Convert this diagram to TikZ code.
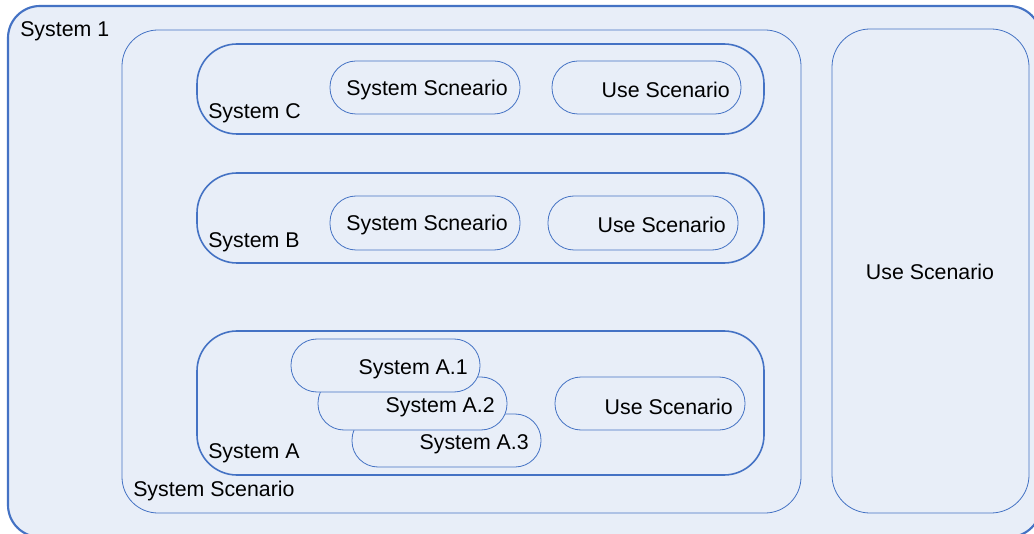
\documentclass[tikz,border=0pt]{standalone}
\usepackage{fontspec}
\setmainfont{Liberation Sans}
\definecolor{sysline}{RGB}{68, 114, 196}
\definecolor{sysfill}{RGB}{232, 238, 248}
\usetikzlibrary{positioning}

\begin{document}
\begin{tikzpicture}[x=0.75pt, y=-0.75pt, every node/.style={font=\fontsize{16}{19}\selectfont, inner sep=0pt}]
        \clip (0,0) rectangle (1034,534);
        \fill[white] (0,0) rectangle (1034,534);
        % outer system and its two scenarios
        \draw[line width=1.6pt, color=sysline, fill=sysfill, rounded corners=24pt] (8,6) rectangle (1041,537); \node[anchor=west] (sysone) at (20,31) {System 1};
        \draw[line width=0.6pt, color=sysline, fill=sysfill, rounded corners=27pt] (122,30) rectangle (801,513); \node[anchor=west] (sysscen) at (133,491) {System Scenario};
        \draw[line width=0.6pt, color=sysline, fill=sysfill, rounded corners=28.5pt] (832,29) rectangle (1029,513); \node (usescen) at (930,272) {Use Scenario};
        % subsystems C and B
        \foreach \name/\top in {C/44, B/173} {
          \draw[line width=1.2pt, color=sysline, fill=sysfill, rounded corners=30pt] (197,\top) rectangle (764,\top+90);
          \node[anchor=west] (sys\name) at (208,\top+69) {System \name};
        }
        \draw[line width=0.6pt, color=sysline, fill=sysfill, rounded corners=19.5pt] (330,61) rectangle (520,114); \node[anchor=east] (scenC) at (508,90) {System Scneario};
        \draw[line width=0.6pt, color=sysline, fill=sysfill, rounded corners=19.5pt] (552,61) rectangle (741,114); \node[anchor=east] (useC) at (730,90) {Use Scenario};
        \draw[line width=0.6pt, color=sysline, fill=sysfill, rounded corners=19.5pt] (330,196) rectangle (520,250); \node[anchor=east] (scenB) at (508,225) {System Scneario};
        \draw[line width=0.6pt, color=sysline, fill=sysfill, rounded corners=19.5pt] (548,196) rectangle (738,250); \node[anchor=east] (useB) at (726,225) {Use Scenario};
        % subsystem A with stacked parts
        \draw[line width=1.2pt, color=sysline, fill=sysfill, rounded corners=30pt] (197,331) rectangle (764,475); \node[anchor=west] (sysA) at (208,453) {System A};
        \draw[line width=0.6pt, color=sysline, fill=sysfill, rounded corners=19.5pt] (555,377) rectangle (745,430); \node[anchor=east] (useA) at (733,407) {Use Scenario};
        \foreach \part/\left/\top in {3/352/414, 2/318/377, 1/291/339} {
          \draw[line width=0.6pt, color=sysline, fill=sysfill, rounded corners=19.5pt] (\left,\top) rectangle (\left+189,\top+53);
          \node[anchor=east] (sysA\part) at (\left+177,\top+30) {System A.\part};
        }
      \end{tikzpicture}
\end{document}
